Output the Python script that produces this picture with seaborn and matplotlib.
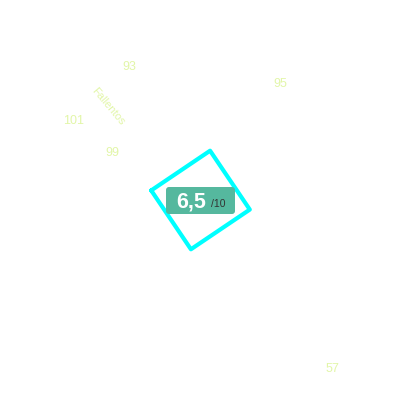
import matplotlib
matplotlib.use("Agg")
import matplotlib.pyplot as plt
import seaborn as sns
import numpy as np
import pandas as pd
from matplotlib.patches import FancyBboxPatch

sns.set_theme(style="white")
plt.rcParams['font.family'] = ['Liberation Sans', 'DejaVu Sans']

# data
score = 6.5
score_max = 10
label_values = [93, 95, 101, 99, 57]
label_x = [129, 280, 74, 112, 332]
label_y = [67, 84, 121, 153, 369]
axis_title = "Fallentos"

fig = plt.figure(figsize=(4, 4), dpi=100)
ax = fig.add_axes([0, 0, 1, 1])
ax.set_xlim(0, 400)
ax.set_ylim(400, 0)
ax.axis("off")

# rotated square
cx, cy, half = 200.5, 200, 35.5
ang = np.deg2rad(-34)
corners = np.array([[-1, -1], [1, -1], [1, 1], [-1, 1], [-1, -1]]) * half
rot = np.array([[np.cos(ang), -np.sin(ang)], [np.sin(ang), np.cos(ang)]])
pts = corners @ rot.T
sq = pd.DataFrame({"x": pts[:, 0] + cx, "y": pts[:, 1] + cy, "i": range(5)})
sns.lineplot(data=sq, x="x", y="y", sort=False, estimator=None, color="#00FFFF",
             linewidth=3, ax=ax)
ax.set_xlabel("")
ax.set_ylabel("")

# badge
badge = FancyBboxPatch((166, 187), 69, 27, boxstyle="round,pad=0,rounding_size=3",
                       facecolor="#55B89E", edgecolor="none", zorder=3)
ax.add_patch(badge)
ax.text(206.5, 202, f"{score:.1f}".replace(".", ","), color="white", fontsize=15.5,
        fontweight="bold", ha="right", va="center", zorder=4)
ax.text(211, 204, f"/{score_max}", color="#333333", fontsize=7.5,
        ha="left", va="center", zorder=4)

# faint labels
for v, x, y in zip(label_values, label_x, label_y):
    ax.text(x, y, str(v), color="#E2F6A8", fontsize=9, ha="center", va="center")

ax.text(108, 106, axis_title, color="#E2F6A8", fontsize=8, rotation=-50,
        ha="center", va="center", rotation_mode="anchor")

fig.savefig("out.png", dpi=100)
